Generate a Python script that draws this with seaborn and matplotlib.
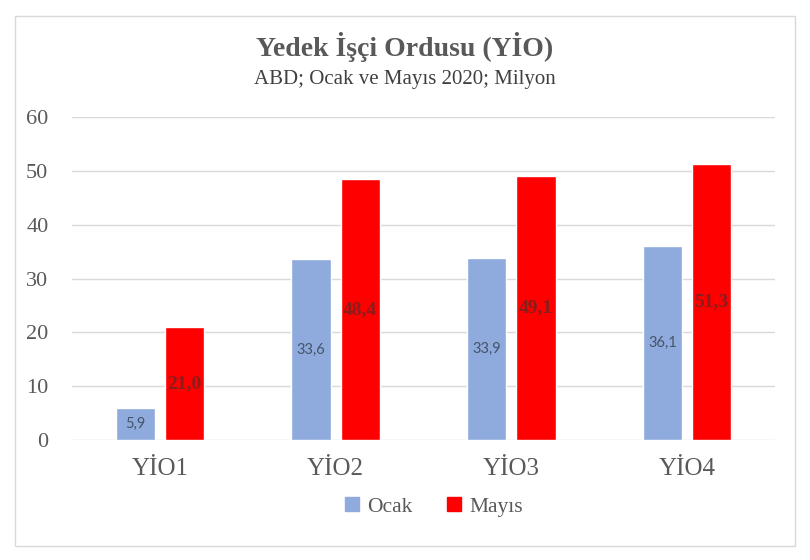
import matplotlib
matplotlib.use("Agg")
import matplotlib.pyplot as plt
import pandas as pd
import seaborn as sns
from matplotlib.patches import Rectangle

categories = ["YİO1", "YİO2", "YİO3", "YİO4"]
ocak = [5.9, 33.6, 33.9, 36.1]
mayis = [21.0, 48.4, 49.1, 51.3]
series_names = ["Ocak", "Mayıs"]

COLORS = {"Ocak": "#8FAADC", "Mayıs": "#FF0000"}
SERIF = ["Liberation Serif", "DejaVu Serif"]
SANS = ["Lato", "DejaVu Sans"]

sns.set_theme(style="white")
plt.rcParams["font.family"] = SERIF

df = pd.DataFrame({
    "kategori": categories * 2,
    "seri": [series_names[0]] * 4 + [series_names[1]] * 4,
    "deger": ocak + mayis,
})

fig = plt.figure(figsize=(8.1, 5.6), dpi=100)
ax = fig.add_axes([72 / 810, 1 - 440 / 560, (775 - 72) / 810, (440 - 117) / 560])

sns.barplot(data=df, x="kategori", y="deger", hue="seri", hue_order=series_names,
            palette=COLORS, width=0.56, gap=0.2, saturation=1, ax=ax, legend=False)

ax.set_ylim(0, 60)
ax.set_xlim(-0.5, 3.5)
ax.set_yticks(range(0, 61, 10))
ax.yaxis.grid(True, color="#D9D9D9", linewidth=1)
ax.set_axisbelow(True)
for s in ax.spines.values():
    s.set_visible(False)
ax.set_xlabel("")
ax.set_ylabel("")
ax.tick_params(axis="y", length=0, pad=17, labelsize=16, labelcolor="#595959")
ax.tick_params(axis="x", length=0, pad=13, labelsize=18, labelcolor="#595959")

# değer etiketleri
for i, cont in enumerate(ax.containers):
    for bar in cont:
        h = bar.get_height()
        x = bar.get_x() + bar.get_width() / 2
        txt = f"{h:.1f}".replace(".", ",")
        if i == 0:
            ax.text(x, h / 2, txt, ha="center", va="center", fontsize=10.5,
                    color="#44546A", family=SANS)
        else:
            ax.text(x, h / 2, txt, ha="center", va="center", fontsize=14,
                    fontweight="bold", color="#8C1C1C", family=SERIF)

fig.text(0.5, 1 - 47 / 560, "Yedek İşçi Ordusu (YİO)", ha="center", va="center",
         fontsize=20, fontweight="bold", color="#595959")
fig.text(0.5, 1 - 80 / 560, "ABD; Ocak ve Mayıs 2020; Milyon", ha="center", va="center",
         fontsize=15, color="#404040")

handles = [Rectangle((0, 0), 1, 1, color=COLORS[n]) for n in series_names]
fig.legend(handles, series_names, loc="center", bbox_to_anchor=(434 / 810, 1 - 507 / 560),
           ncol=2, frameon=False, fontsize=15.5, handlelength=0.65, handleheight=0.65,
           columnspacing=1.6, handletextpad=0.4, labelcolor="#595959")

fig.add_artist(Rectangle((15 / 810, 1 - 546 / 560), 780 / 810, 530 / 560,
                         transform=fig.transFigure, fill=False, edgecolor="#D9D9D9", linewidth=1))

fig.savefig("out.png", dpi=100)
